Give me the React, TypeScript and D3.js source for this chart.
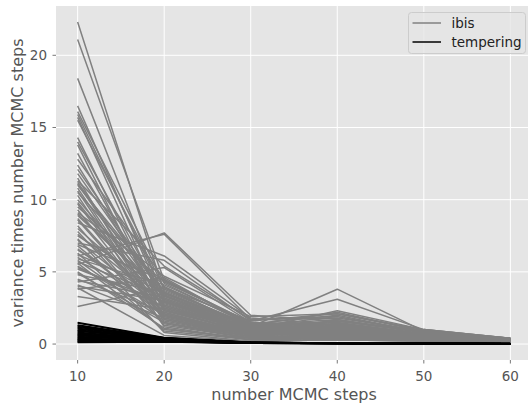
import React from "react";
import * as d3 from "d3";

const steps = [10, 20, 30, 40, 50, 60];
const xTicks = [10, 20, 30, 40, 50, 60];
const yTicks = [0, 5, 10, 15, 20];

// ibis runs: values at steps 10..60
const ibis: number[][] = [
  [22.3, 3.6, 1.2, 0.9, 0.6, 0.3],
  [21.1, 4.4, 1.5, 1.3, 0.7, 0.35],
  [18.4, 3.1, 0.9, 0.8, 0.5, 0.25],
  [16.5, 2.9, 1.1, 1.6, 0.8, 0.3],
  [16.1, 4.2, 1.3, 0.7, 0.4, 0.2],
  [15.9, 3.4, 0.8, 1.1, 0.6, 0.3],
  [15.7, 2.5, 0.7, 0.9, 0.5, 0.25],
  [15.5, 3.9, 1.6, 2.1, 0.9, 0.4],
  [14.3, 2.2, 0.6, 0.5, 0.3, 0.2],
  [14.0, 3.0, 1.0, 1.4, 0.7, 0.3],
  [13.8, 1.8, 0.5, 0.6, 0.4, 0.2],
  [12.8, 4.5, 1.4, 1.0, 0.6, 0.3],
  [12.4, 2.7, 0.9, 1.2, 0.5, 0.25],
  [11.8, 3.3, 1.2, 0.8, 0.6, 0.3],
  [11.5, 1.5, 0.4, 0.7, 0.3, 0.2],
  [11.3, 5.4, 1.7, 1.9, 0.8, 0.35],
  [11.1, 2.4, 0.7, 0.6, 0.4, 0.2],
  [11.0, 3.7, 1.3, 1.5, 0.7, 0.3],
  [10.8, 2.0, 0.6, 1.0, 0.5, 0.25],
  [10.5, 4.0, 1.1, 0.9, 0.6, 0.3],
  [10.3, 1.2, 0.3, 0.4, 0.3, 0.2],
  [10.0, 3.2, 1.0, 2.3, 1.0, 0.4],
  [9.8, 2.6, 0.8, 0.7, 0.4, 0.25],
  [9.5, 4.3, 1.5, 1.2, 0.7, 0.3],
  [9.3, 1.7, 0.5, 0.5, 0.3, 0.2],
  [9.0, 3.5, 1.2, 3.8, 0.9, 0.35],
  [8.7, 2.1, 0.7, 0.8, 0.5, 0.25],
  [8.4, 6.1, 1.8, 1.3, 0.7, 0.3],
  [8.0, 2.8, 0.9, 1.1, 0.6, 0.3],
  [7.8, 1.4, 0.4, 0.3, 0.3, 0.2],
  [7.5, 3.8, 1.3, 1.7, 0.8, 0.35],
  [7.2, 2.3, 0.8, 0.6, 0.4, 0.25],
  [7.0, 5.8, 1.6, 3.1, 1.0, 0.4],
  [6.8, 1.9, 0.6, 0.9, 0.5, 0.2],
  [6.5, 3.1, 1.0, 1.4, 0.7, 0.3],
  [6.3, 0.9, 0.3, 0.4, 0.3, 0.2],
  [6.1, 7.6, 1.7, 1.8, 0.9, 0.35],
  [6.0, 2.5, 0.9, 0.7, 0.5, 0.25],
  [5.9, 4.1, 1.4, 2.0, 0.8, 0.3],
  [5.8, 1.6, 0.5, 0.5, 0.4, 0.2],
  [5.7, 3.3, 1.1, 1.2, 0.6, 0.3],
  [5.5, 7.7, 2.0, 1.6, 0.9, 0.4],
  [5.2, 2.9, 0.9, 1.0, 0.6, 0.3],
  [5.0, 1.1, 0.3, 0.4, 0.3, 0.2],
  [4.8, 3.6, 1.2, 1.9, 0.8, 0.35],
  [4.5, 2.2, 0.7, 0.6, 0.4, 0.25],
  [4.3, 5.3, 1.5, 1.3, 0.7, 0.3],
  [4.1, 1.8, 0.6, 0.8, 0.5, 0.25],
  [4.0, 3.0, 1.0, 1.1, 0.6, 0.3],
  [3.9, 0.6, 0.2, 0.3, 0.2, 0.15],
  [3.8, 4.6, 1.3, 2.2, 0.9, 0.35],
  [3.3, 2.4, 0.8, 0.7, 0.5, 0.25],
  [2.6, 3.9, 1.1, 1.0, 0.6, 0.3],
  [9.7, 2.0, 0.6, 0.9, 0.5, 0.25],
  [8.9, 3.4, 1.2, 1.5, 0.7, 0.3],
  [8.2, 1.3, 0.4, 0.5, 0.3, 0.2],
  [7.6, 2.7, 0.9, 1.3, 0.6, 0.3],
  [6.9, 4.4, 1.4, 1.1, 0.7, 0.3],
  [6.6, 2.1, 0.7, 0.6, 0.4, 0.2],
  [6.2, 3.6, 1.2, 1.6, 0.8, 0.35],
  [5.6, 1.0, 0.4, 0.5, 0.3, 0.2],
  [5.3, 2.6, 0.9, 0.8, 0.5, 0.25],
  [4.9, 1.5, 0.5, 0.6, 0.4, 0.2],
  [4.4, 3.2, 1.1, 1.4, 0.7, 0.3],
  [11.2, 2.9, 1.0, 0.7, 0.5, 0.25],
  [10.6, 1.7, 0.5, 1.2, 0.6, 0.3],
  [9.1, 4.7, 1.9, 2.1, 1.0, 0.4],
  [12.1, 3.5, 1.3, 0.9, 0.6, 0.3],
  [13.2, 2.3, 0.8, 1.0, 0.5, 0.25],
  [7.3, 0.8, 0.2, 0.3, 0.2, 0.15],
  [8.6, 1.9, 0.6, 0.8, 0.4, 0.2],
  [5.4, 2.0, 0.7, 1.7, 0.8, 0.3],
];

// tempering runs: values at steps 10..60
const tempering: number[][] = [
  [1.5, 0.45, 0.12, 0.07, 0.05, 0.03],
  [1.45, 0.42, 0.11, 0.06, 0.04, 0.03],
  [1.32, 0.4, 0.1, 0.06, 0.04, 0.02],
  [1.28, 0.38, 0.12, 0.07, 0.05, 0.03],
  [1.22, 0.44, 0.09, 0.05, 0.04, 0.02],
  [1.16, 0.36, 0.11, 0.06, 0.03, 0.02],
  [1.1, 0.41, 0.1, 0.07, 0.04, 0.03],
  [1.04, 0.34, 0.08, 0.05, 0.03, 0.02],
  [0.98, 0.39, 0.12, 0.06, 0.04, 0.03],
  [0.93, 0.32, 0.09, 0.05, 0.03, 0.02],
  [0.88, 0.37, 0.1, 0.06, 0.04, 0.02],
  [0.82, 0.3, 0.08, 0.05, 0.03, 0.02],
  [0.77, 0.35, 0.11, 0.07, 0.04, 0.03],
  [0.72, 0.28, 0.09, 0.05, 0.03, 0.02],
  [0.67, 0.33, 0.1, 0.06, 0.04, 0.02],
  [0.62, 0.26, 0.08, 0.04, 0.03, 0.02],
  [0.57, 0.31, 0.09, 0.05, 0.03, 0.02],
  [0.52, 0.24, 0.07, 0.04, 0.03, 0.02],
  [0.47, 0.29, 0.08, 0.05, 0.03, 0.02],
  [0.42, 0.22, 0.07, 0.04, 0.02, 0.02],
  [0.38, 0.27, 0.08, 0.05, 0.03, 0.02],
  [0.34, 0.2, 0.06, 0.04, 0.02, 0.01],
  [0.3, 0.25, 0.07, 0.04, 0.03, 0.02],
  [0.26, 0.18, 0.06, 0.03, 0.02, 0.01],
  [0.22, 0.23, 0.07, 0.04, 0.02, 0.02],
  [0.18, 0.16, 0.05, 0.03, 0.02, 0.01],
  [0.14, 0.21, 0.06, 0.04, 0.02, 0.01],
  [0.11, 0.15, 0.05, 0.03, 0.02, 0.01],
];

const legendLabels = ["ibis", "tempering"];
const legendColors = ["#808080", "#000000"];

export default function App() {
  const W = 528, H = 404;
  const left = 56, right = 532, top = 6, bottom = 360;
  const font = "DejaVu Sans, sans-serif";

  const all = [...ibis.flat(), ...tempering.flat()];
  const ymin = d3.min(all)!, ymax = d3.max(all)!;
  const pad = (ymax - ymin) * 0.05;
  const xs = d3.scaleLinear().domain([7.5, 62.5]).range([left, right]);
  const ys = d3.scaleLinear().domain([ymin - pad, ymax + pad]).range([bottom, top]);

  const line = d3
    .line<number>()
    .x((_, i) => xs(steps[i]))
    .y((d) => ys(d));

  const tickColor = "#555555";

  return (
    <svg
      width={W}
      height={H}
      style={{ position: "absolute", left: 0, top: 0, background: "#fff" }}
      fontFamily={font}
    >
      <rect x={left} y={top} width={right - left} height={bottom - top} fill="#E5E5E5" />
      {xTicks.map((t) => (
        <line key={"gx" + t} x1={xs(t)} x2={xs(t)} y1={top} y2={bottom} stroke="#fff" strokeWidth={1} />
      ))}
      {yTicks.map((t) => (
        <line key={"gy" + t} x1={left} x2={right} y1={ys(t)} y2={ys(t)} stroke="#fff" strokeWidth={1} />
      ))}
      <g fill="none" strokeLinejoin="round" strokeLinecap="butt">
        {ibis.map((s, i) => (
          <path key={"i" + i} d={line(s)!} stroke={legendColors[0]} strokeWidth={1.5} />
        ))}
        {tempering.map((s, i) => (
          <path key={"t" + i} d={line(s)!} stroke={legendColors[1]} strokeWidth={1.5} />
        ))}
      </g>
      {xTicks.map((t) => (
        <g key={"tx" + t}>
          <line x1={xs(t)} x2={xs(t)} y1={bottom} y2={bottom + 3.5} stroke={tickColor} strokeWidth={0.8} />
          <text x={xs(t)} y={bottom + 20.5} textAnchor="middle" fontSize={13.5} fill={tickColor}>
            {t}
          </text>
        </g>
      ))}
      {yTicks.map((t) => (
        <g key={"ty" + t}>
          <line x1={left - 3.5} x2={left} y1={ys(t)} y2={ys(t)} stroke={tickColor} strokeWidth={0.8} />
          <text x={left - 9} y={ys(t)} dy="0.36em" textAnchor="end" fontSize={13.5} fill={tickColor}>
            {t}
          </text>
        </g>
      ))}
      <text x={(left + right) / 2} y={400} textAnchor="middle" fontSize={16} fill={tickColor}>
        number MCMC steps
      </text>
      <text
        transform={`translate(23, ${(top + bottom) / 2}) rotate(-90)`}
        textAnchor="middle"
        fontSize={16}
        fill={tickColor}
      >
        variance times number MCMC steps
      </text>
      <g>
        <rect x={408.5} y={12.5} width={117} height={41} rx={3} fill="#E5E5E5" fillOpacity={0.8} stroke="#CCCCCC" strokeWidth={1} />
        {legendLabels.map((lab, i) => (
          <g key={lab}>
            <line x1={412.5} x2={441} y1={23 + i * 19} y2={23 + i * 19} stroke={legendColors[i]} strokeWidth={1.5} />
            <text x={451.5} y={23 + i * 19} dy="0.36em" fontSize={13.5} fill="#222">
              {lab}
            </text>
          </g>
        ))}
      </g>
    </svg>
  );
}
